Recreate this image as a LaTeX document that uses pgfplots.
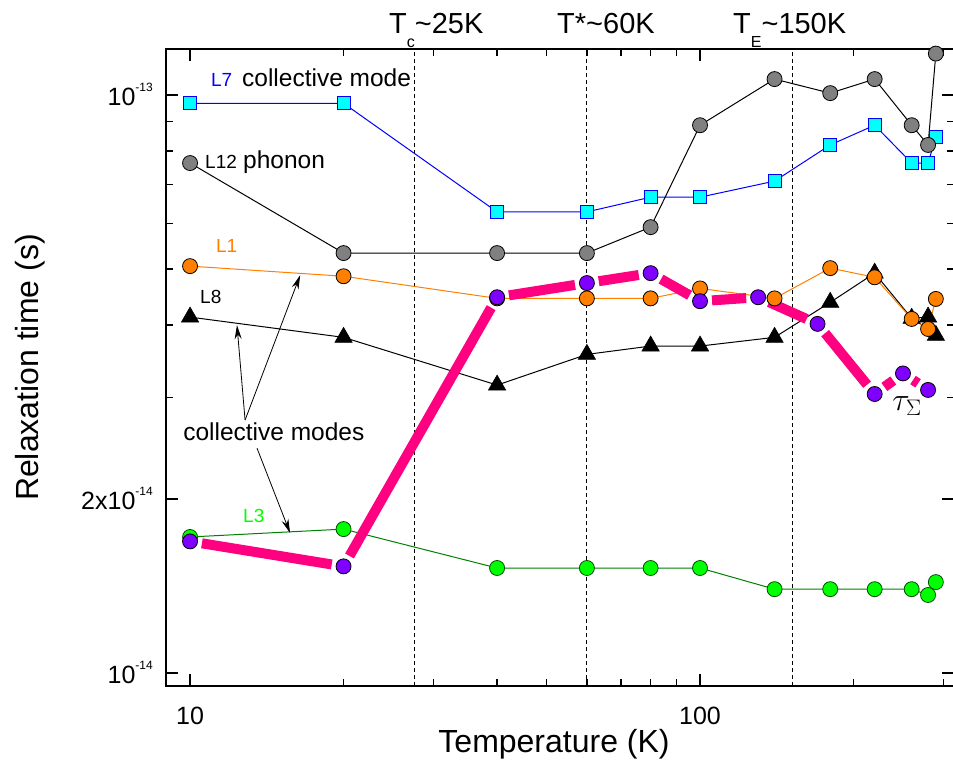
\documentclass[border=0pt]{standalone}
\usepackage{graphicx}
\usepackage{fontspec}
\setmainfont{Liberation Sans}
\usepackage{pgfplots}
\pgfplotsset{compat=1.18}
\usetikzlibrary{arrows.meta}
\definecolor{myblue}{RGB}{0,0,255}
\definecolor{mycyan}{RGB}{0,255,255}
\definecolor{mygray}{RGB}{128,128,128}
\definecolor{myorange}{RGB}{255,128,0}
\definecolor{mygreen}{RGB}{0,255,0}
\definecolor{mydkgreen}{RGB}{0,128,0}
\definecolor{mypurple}{RGB}{128,0,255}
\definecolor{mymagenta}{RGB}{255,0,128}
\newcommand{\fs}[1]{\fontsize{#1}{#1}\selectfont}
\begin{document}
\begin{tikzpicture}
\begin{axis}[
  name=ax, at={(0,0)}, anchor=south west,
  xmode=log, ymode=log,
  scale only axis, width=788pt, height=637pt,
  xmin=8.971, xmax=314.8, ymin=9.495e-15, ymax=1.2013e-13,
  xtick={10,100}, xticklabels={10,100},
  minor xtick={20,30,40,50,60,70,80,90,200,300},
  ytick={1e-14,2e-14,1e-13},
  yticklabels={10\raisebox{14pt}{\fs{12}-14},2x10\raisebox{14pt}{\fs{12}-14},10\raisebox{14pt}{\fs{12}-13}},
  minor ytick={3e-14,4e-14,5e-14,6e-14,7e-14,8e-14,9e-14},
  tick align=inside,
  major tick length=12pt, minor tick length=7pt,
  every tick/.style={black, line width=1.5pt},
  axis line style={line width=2pt},
  tick label style={font=\fs{25}},
  xticklabel style={anchor=base, inner sep=0pt, yshift=-38pt},
  yticklabel style={anchor=base east, inner sep=0pt, xshift=-13pt, yshift=-10pt},
  xlabel={Temperature (K)},
  ylabel={Relaxation time (s)},
  label style={font=\fs{32}},
  xlabel style={at={(axis description cs:0.4924,-0.1036)}, anchor=base},
  ylabel style={at={(axis description cs:-0.1624,0.5)}, anchor=base},
  clip=false,
]
% vertical dashed lines
\addplot[black, line width=1pt, dash pattern=on 4pt off 3pt] coordinates {(27.5,9.495e-15) (27.5,1.2013e-13)};
\addplot[black, line width=1pt, dash pattern=on 4pt off 3pt] coordinates {(60,9.495e-15) (60,1.2013e-13)};
\addplot[black, line width=1pt, dash pattern=on 4pt off 3pt] coordinates {(152,9.495e-15) (152,1.2013e-13)};

% L8 black triangles
\addplot[black, line width=1pt, mark=triangle*, mark size=10pt, mark options={fill=black, line width=0.6pt}] coordinates {
(10,4.13e-14)(20,3.81e-14)(40,3.15e-14)(60,3.56e-14)(80,3.68e-14)(100,3.68e-14)(140,3.81e-14)(180,4.38e-14)(220,4.92e-14)(260,4.11e-14)(280,4.13e-14)(290,3.84e-14)};
% L1 orange
\addplot[myorange, line width=1pt, mark=*, mark size=7.5pt, mark options={fill=myorange, draw=black, line width=0.8pt}] coordinates {
(10,5.06e-14)(20,4.86e-14)(40,4.45e-14)(60,4.45e-14)(80,4.45e-14)(100,4.63e-14)(140,4.45e-14)(180,5.02e-14)(220,4.84e-14)(260,4.1e-14)(280,3.94e-14)(290,4.44e-14)};
% L7 blue squares
\addplot[myblue, line width=1pt, mark=square*, mark size=6.5pt, mark options={fill=mycyan, draw=myblue, line width=0.8pt}] coordinates {
(10,9.68e-14)(20,9.68e-14)(40,6.28e-14)(60,6.28e-14)(80,6.66e-14)(100,6.66e-14)(140,7.1e-14)(180,8.2e-14)(220,8.87e-14)(260,7.63e-14)(280,7.63e-14)(290,8.46e-14)};
% L12 gray
\addplot[black, line width=1pt, mark=*, mark size=7.5pt, mark options={fill=mygray, draw=black, line width=0.8pt}] coordinates {
(10,7.63e-14)(20,5.33e-14)(40,5.33e-14)(60,5.33e-14)(80,5.91e-14)(100,8.87e-14)(140,1.066e-13)(180,1.008e-13)(220,1.066e-13)(260,8.87e-14)(280,8.2e-14)(290,1.18e-13)};
% L3 green
\addplot[mydkgreen, line width=1pt, mark=*, mark size=7.5pt, mark options={fill=mygreen, draw=mydkgreen!60!black, line width=0.8pt}] coordinates {
(10,1.72e-14)(20,1.775e-14)(40,1.52e-14)(60,1.52e-14)(80,1.52e-14)(100,1.52e-14)(140,1.397e-14)(180,1.397e-14)(220,1.397e-14)(260,1.397e-14)(280,1.365e-14)(290,1.437e-14)};

% tau_Sigma thick segments with gaps at the symbols
\pgfplotsset{seg/.style={mymagenta, line width=10pt, line cap=butt, shorten <=12pt, shorten >=12pt, forget plot}}
\addplot[seg] coordinates {(10,1.69e-14)(20,1.53e-14)};
\addplot[seg] coordinates {(20,1.53e-14)(40,4.47e-14)};
\addplot[seg] coordinates {(40,4.47e-14)(60,4.73e-14)};
\addplot[seg] coordinates {(60,4.73e-14)(80,4.92e-14)};
\addplot[seg] coordinates {(80,4.92e-14)(100,4.4e-14)};
\addplot[seg] coordinates {(100,4.4e-14)(130,4.47e-14)};
\addplot[seg] coordinates {(130,4.47e-14)(170,4.02e-14)};
\addplot[seg] coordinates {(170,4.02e-14)(220,3.04e-14)};
\addplot[seg] coordinates {(220,3.04e-14)(250,3.3e-14)};
\addplot[seg] coordinates {(250,3.3e-14)(280,3.09e-14)};
% tau_Sigma symbols
\addplot[only marks, mark=*, mark size=7.5pt, mark options={fill=mypurple, draw=black, line width=0.8pt}] coordinates {
(10,1.69e-14)(20,1.53e-14)(40,4.47e-14)(60,4.73e-14)(80,4.92e-14)(100,4.4e-14)(130,4.47e-14)(170,4.02e-14)(220,3.04e-14)(250,3.3e-14)(280,3.09e-14)};

% annotations
\node[anchor=base west, inner sep=0pt, text=myblue, font=\fs{19}] at (axis cs:10.99,1.0366e-13) {L7};
\node[anchor=base west, inner sep=0pt, font=\fs{24.5}] at (axis cs:12.64,1.0366e-13) {collective mode};
\node[anchor=base west, inner sep=0pt, font=\fs{19}] at (axis cs:10.70,7.48e-14) {L12};
\node[anchor=base west, inner sep=0pt, font=\fs{24.5}] at (axis cs:12.70,7.48e-14) {phonon};
\node[anchor=base west, inner sep=0pt, text=myorange, font=\fs{19}] at (axis cs:11.24,5.35e-14) {L1};
\node[anchor=base west, inner sep=0pt, font=\fs{19}] at (axis cs:10.46,4.366e-14) {L8};
\node[anchor=base west, inner sep=0pt, text=mygreen, font=\fs{19}] at (axis cs:12.70,1.825e-14) {L3};
\node[anchor=base west, inner sep=0pt, font=\fs{24.5}] at (axis cs:9.689,2.53e-14) {collective modes};
\node[anchor=base west, inner sep=0pt, font=\fs{24}] at (axis cs:238,2.85e-14) {\scalebox{1.3}{$\tau_{\Sigma}$}};
\draw[black, line width=0.8pt, -{Stealth[length=14pt,width=7pt]}] (axis cs:12.82,2.74e-14) -- (axis cs:12.36,4.0e-14);
\draw[black, line width=0.8pt, -{Stealth[length=14pt,width=7pt]}] (axis cs:12.82,2.74e-14) -- (axis cs:16.44,4.88e-14);
\draw[black, line width=0.8pt, -{Stealth[length=14pt,width=7pt]}] (axis cs:13.53,2.45e-14) -- (axis cs:15.71,1.747e-14);

% top labels
\node[anchor=base west, inner sep=0pt, font=\fs{29}] at (axis description cs:0.283,1.0251) {T\raisebox{-14pt}{\fs{16}c}\textasciitilde 25K};
\node[anchor=base west, inner sep=0pt, font=\fs{29}] at (axis description cs:0.4962,1.0251) {T*\textasciitilde 60K};
\node[anchor=base west, inner sep=0pt, font=\fs{29}] at (axis description cs:0.7195,1.0251) {T\raisebox{-14pt}{\fs{16}E}\textasciitilde 150K};
\end{axis}
\pgfresetboundingbox
\path[use as bounding box] ([shift={(-166pt,-92pt)}]ax.south west) rectangle ([shift={(-1pt,49pt)}]ax.north east);
\end{tikzpicture}
\end{document}
